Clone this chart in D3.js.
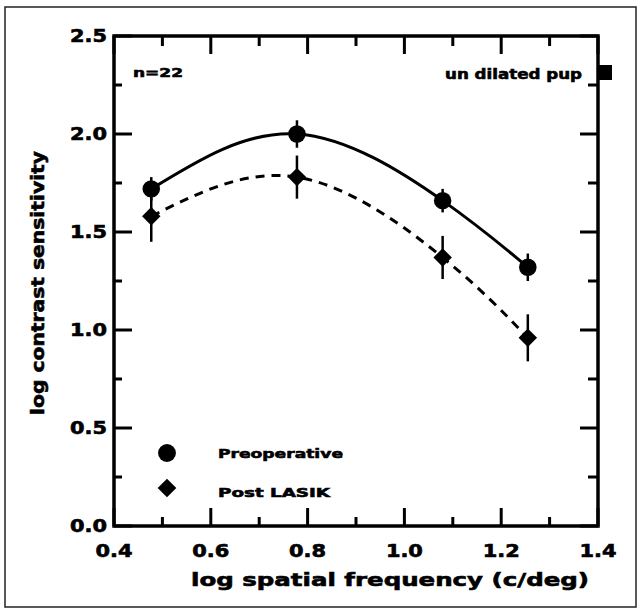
<!DOCTYPE html>
<html>
<head>
<meta charset="utf-8">
<script src="https://cdn.jsdelivr.net/npm/d3@7"></script>
<style>
  body { margin: 0; background: #fff; }
  .lbl { font-family: "DejaVu Sans", sans-serif; font-weight: bold; fill: #000; stroke: #000; stroke-width: 0.6px; }
</style>
</head>
<body>
<svg class="plot" width="641" height="612"></svg>
<script>
// values
var freq = [0.477, 0.778, 1.079, 1.255];          // log spatial frequency (3, 6, 12, 18 c/deg)
var preop = [1.72, 2.00, 1.66, 1.32];
var preopErr = [0.06, 0.07, 0.06, 0.07];
var postLasik = [1.58, 1.78, 1.37, 0.96];
var postErr = [0.13, 0.11, 0.11, 0.12];

var seriesNames = ["Preoperative", "Post LASIK"];
var xMajor = [0.4, 0.6, 0.8, 1.0, 1.2, 1.4];
var xMinor = [0.5, 0.7, 0.9, 1.1, 1.3];
var yMajor = [0.0, 0.5, 1.0, 1.5, 2.0, 2.5];
var yMinor = [0.25, 0.75, 1.25, 1.75, 2.25];
var notes = ["n=22", "un dilated pup"];

var svg = d3.select(".plot"),
    margin = {top: 36, right: 43, bottom: 86, left: 114},
    width = +svg.attr("width") - margin.left - margin.right,
    height = +svg.attr("height") - margin.top - margin.bottom;

var x = d3.scaleLinear().domain([0.4, 1.4]).range([0, width]),
    y = d3.scaleLinear().domain([0, 2.5]).range([height, 0]);

// tick marks first, in their own group, pointing inward on all four sides
var tk = svg.append("g")
    .attr("transform", "translate(" + margin.left + "," + margin.top + ")");
var tickSpecs = [
  {vals: xMajor, len: 18, side: "bottom"}, {vals: xMinor, len: 9, side: "bottom"},
  {vals: xMajor, len: 18, side: "top"},    {vals: xMinor, len: 10, side: "top"},
  {vals: yMajor, len: 18, side: "left"},   {vals: yMinor, len: 8, side: "left"},
  {vals: yMajor, len: 18, side: "right"},  {vals: yMinor, len: 10, side: "right"}
];
tickSpecs.forEach(function(s) {
  tk.selectAll(null).data(s.vals).enter().append("line")
      .attr("x1", function(d) { return s.side == "left" ? 0 : s.side == "right" ? width : x(d); })
      .attr("x2", function(d) { return s.side == "left" ? s.len : s.side == "right" ? width - s.len : x(d); })
      .attr("y1", function(d) { return s.side == "top" ? 0 : s.side == "bottom" ? height : y(d); })
      .attr("y2", function(d) { return s.side == "top" ? s.len : s.side == "bottom" ? height - s.len : y(d); })
      .attr("stroke", "#000").attr("stroke-width", 3);
});

// outer frame of the scanned page
svg.append("rect")
    .attr("x", 5).attr("y", 7).attr("width", 631).attr("height", 600)
    .attr("fill", "none").attr("stroke", "#222").attr("stroke-width", 1.5);

var g = svg.append("g")
    .attr("transform", "translate(" + margin.left + "," + margin.top + ")");

// plot frame
g.append("rect")
    .attr("width", width).attr("height", height)
    .attr("fill", "none").attr("stroke", "#000").attr("stroke-width", 3.5);

// tick labels
g.selectAll(".xl").data(xMajor).enter().append("text")
    .attr("class", "lbl xl")
    .attr("x", function(d) { return x(d); })
    .attr("y", height + 31)
    .attr("text-anchor", "middle")
    .attr("textLength", 37).attr("lengthAdjust", "spacingAndGlyphs")
    .style("font-size", "17px")
    .text(d3.format(".1f"));
g.selectAll(".yl").data(yMajor).enter().append("text")
    .attr("class", "lbl yl")
    .attr("x", -7)
    .attr("y", function(d) { return y(d) + 6; })
    .attr("text-anchor", "end")
    .attr("textLength", 37).attr("lengthAdjust", "spacingAndGlyphs")
    .style("font-size", "17px")
    .text(d3.format(".1f"));

// axis titles
svg.append("text").attr("class", "lbl")
    .attr("x", 191).attr("y", 586)
    .attr("textLength", 398).attr("lengthAdjust", "spacingAndGlyphs")
    .style("font-size", "18px")
    .text("log  spatial frequency (c/deg)");

svg.append("text").attr("class", "lbl")
    .attr("transform", "translate(44,283) rotate(-90)")
    .attr("text-anchor", "middle")
    .attr("textLength", 264).attr("lengthAdjust", "spacingAndGlyphs")
    .style("font-size", "18px")
    .text("log contrast sensitivity");

// notes in the corners
g.append("text").attr("class", "lbl").attr("x", 19).attr("y", 41)
    .attr("textLength", 50).attr("lengthAdjust", "spacingAndGlyphs")
    .style("font-size", "13px").text(notes[0]);
g.append("text").attr("class", "lbl").attr("x", 331).attr("y", 43)
    .attr("textLength", 137).attr("lengthAdjust", "spacingAndGlyphs")
    .style("font-size", "14px").text(notes[1]);
g.append("rect").attr("x", width).attr("y", 29).attr("width", 14).attr("height", 15).attr("fill", "#000");

// fitted curves
var preopPts = freq.map(function(f, i) { return [f, preop[i]]; });
var postPts = freq.map(function(f, i) { return [f, postLasik[i]]; });
var lineGen = d3.line()
    .x(function(d) { return x(d[0]); })
    .y(function(d) { return y(d[1]); })
    .curve(d3.curveNatural);

g.append("path").datum(preopPts)
    .attr("d", lineGen).attr("fill", "none").attr("stroke", "#000").attr("stroke-width", 3);
g.append("path").datum(postPts)
    .attr("d", lineGen).attr("fill", "none").attr("stroke", "#000").attr("stroke-width", 3)
    .attr("stroke-dasharray", "9,7");

// error bars
function errBars(vals, errs) {
  g.selectAll(null).data(freq).enter().append("line")
      .attr("x1", function(d) { return x(d); })
      .attr("x2", function(d) { return x(d); })
      .attr("y1", function(d, i) { return y(vals[i] + errs[i]); })
      .attr("y2", function(d, i) { return y(vals[i] - errs[i]); })
      .attr("stroke", "#000").attr("stroke-width", 2.5);
}
errBars(preop, preopErr);
errBars(postLasik, postErr);

// markers
var circle = d3.symbol().type(d3.symbolCircle).size(240);
var diamond = d3.symbol().type(d3.symbolSquare).size(170);

g.selectAll(".pre").data(preop).enter().append("path")
    .attr("class", "pre")
    .attr("d", circle)
    .attr("transform", function(d, i) { return "translate(" + x(freq[i]) + "," + y(d) + ")"; })
    .attr("fill", "#000");

g.selectAll(".post").data(postLasik).enter().append("path")
    .attr("class", "post")
    .attr("d", diamond)
    .attr("transform", function(d, i) { return "translate(" + x(freq[i]) + "," + y(d) + ") rotate(45)"; })
    .attr("fill", "#000");

// legend
var legend = g.append("g").attr("transform", "translate(53,417)");
legend.append("path").attr("d", d3.symbol().type(d3.symbolCircle).size(250)).attr("fill", "#000");
legend.append("path").attr("d", d3.symbol().type(d3.symbolSquare).size(175))
    .attr("transform", "translate(0,35) rotate(45)").attr("fill", "#000");
legend.append("text").attr("class", "lbl").attr("x", 51).attr("y", 5)
    .attr("textLength", 125).attr("lengthAdjust", "spacingAndGlyphs")
    .style("font-size", "13px").text(seriesNames[0]);
legend.append("text").attr("class", "lbl").attr("x", 51).attr("y", 44)
    .attr("textLength", 112).attr("lengthAdjust", "spacingAndGlyphs")
    .style("font-size", "13px").text(seriesNames[1]);
</script>
</body>
</html>
